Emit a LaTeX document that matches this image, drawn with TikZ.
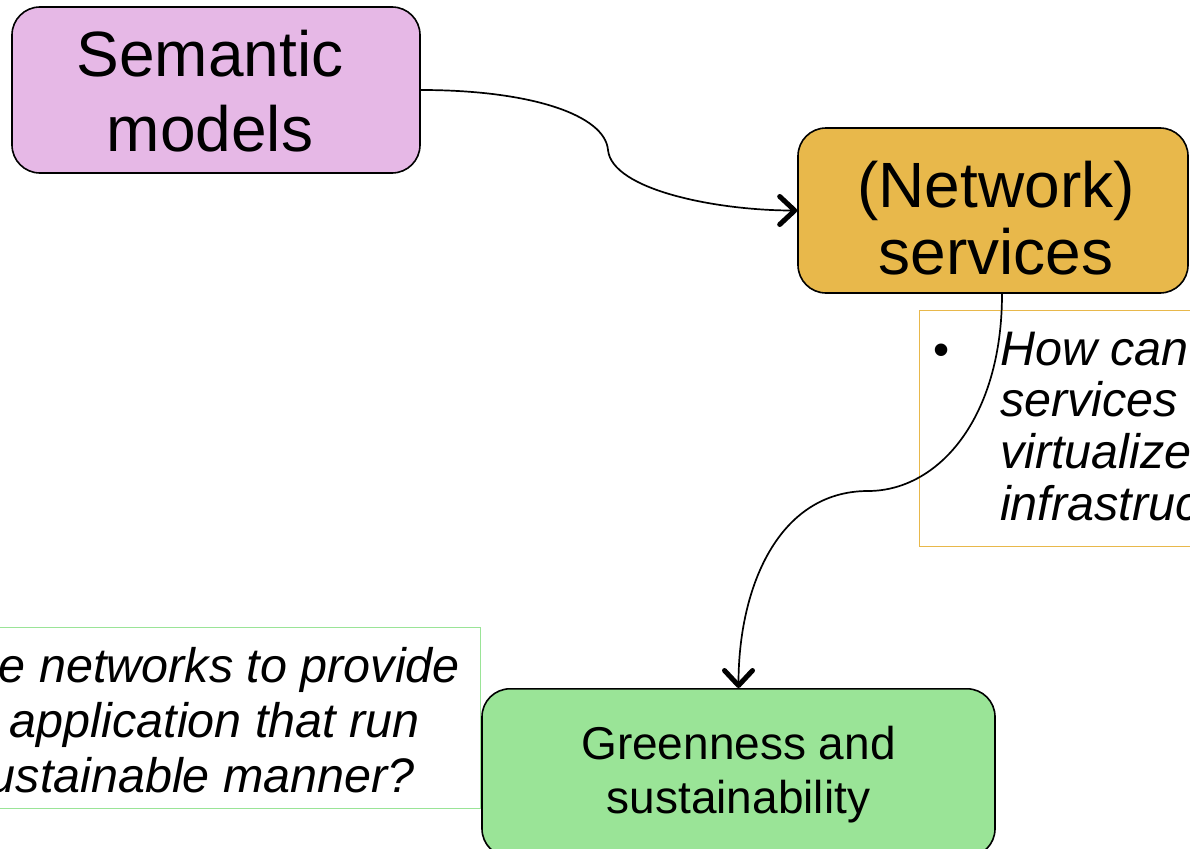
\documentclass[tikz,border=0pt]{standalone}
\usepackage{fontspec}
\setmainfont{Liberation Sans}
\usetikzlibrary{arrows.meta}
\definecolor{semviolet}{RGB}{230,184,230}
\definecolor{netorange}{RGB}{232,184,75}
\definecolor{greenbox}{RGB}{154,228,151}

\begin{document}
\begin{tikzpicture}[x=1pt,y=-1pt,
  topic/.style={draw,line width=1.6pt,rounded corners=28pt,inner sep=0pt},
  topictext/.style={align=center,inner sep=0pt},
  qbox/.style={draw,line width=1.3pt,inner sep=0pt},
  qtext/.style={font=\itshape\fontsize{48.5}{54}\selectfont,inner sep=0pt},
  link/.style={line width=1.7pt,-{Straight Barb[length=15pt,width=28pt,line width=5pt,round]}}]
\useasboundingbox (0,0) rectangle (1190,848);
\clip (0,0) rectangle (1190,848);
% question boxes
\node[qbox,draw=netorange,minimum width=320pt,minimum height=236pt,anchor=north west] (nq) at (919,310) {};
\node[qbox,draw=greenbox,minimum width=520pt,minimum height=181pt,anchor=north east] (gq) at (481,627) {};
\node[qtext,font=\fontsize{46}{54}\selectfont,anchor=base] (nqb) at (942,365) {\textbullet};
\node[qtext,anchor=base west] (nq1) at (1000,365) {How can};
\node[qtext,anchor=base west] (nq2) at (1000,416) {services};
\node[qtext,anchor=base west] (nq3) at (1000,468) {virtualize};
\node[qtext,anchor=base west] (nq4) at (1000,520) {infrastruc};
\node[qtext,anchor=base east] (gq1) at (460,682) {e networks to provide};
\node[qtext,anchor=base east] (gq2) at (420,737) {application that run};
\node[qtext,anchor=base east] (gq3) at (415,792) {ustainable manner?};
% topics
\node[topic,fill=semviolet,minimum width=408pt,minimum height=166pt] (sm) at (216,90) {};
\node[topictext,font=\fontsize{64}{75}\selectfont] (smt) at ([xshift=-6pt,yshift=-1pt]sm.center) {Semantic\\models};
\node[topic,fill=netorange,minimum width=390pt,minimum height=165pt] (ns) at (993,210.5) {};
\node[topictext,font=\fontsize{64}{67}\selectfont] (nst) at ([xshift=3pt,yshift=-8pt]ns.center) {(Network)\\services};
\node[topic,fill=greenbox,minimum width=513pt,minimum height=168pt,anchor=north] (gs) at (738.5,688) {};
\node[topictext,font=\fontsize{46}{54}\selectfont] (gst) at ([yshift=-2pt]gs.center) {Greenness and\\sustainability};
% links
\coordinate (k1) at (608,150);
\coordinate (k2) at (868,491);
\draw[link] (sm.east) .. controls +(110,0) and +(-3,-35) .. (k1) .. controls +(4,40) and +(-80,0) .. (ns.west);
\draw[link] ([xshift=9pt]ns.south) .. controls +(0,125) and +(70,0) .. (k2) .. controls +(-90,0) and +(0,-100) .. (gs.north);
\end{tikzpicture}
\end{document}
